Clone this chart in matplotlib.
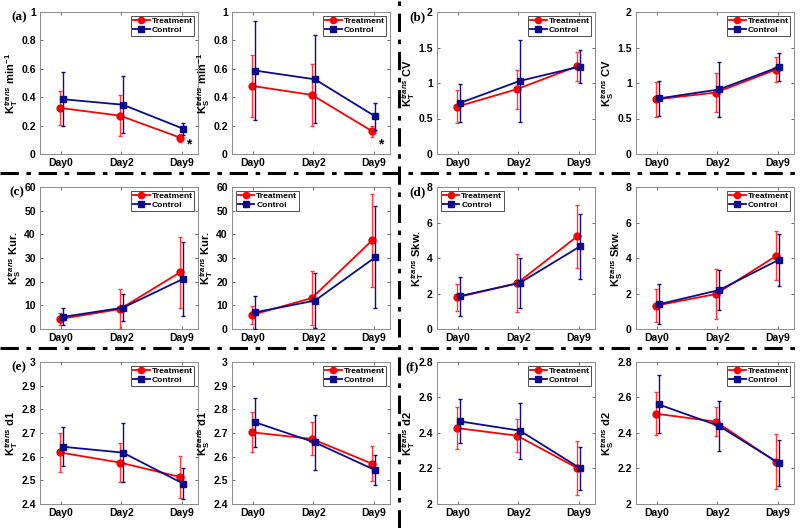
import matplotlib
matplotlib.use("Agg")
import matplotlib.pyplot as plt
from matplotlib.lines import Line2D

plt.rcParams['font.family'] = ['Liberation Sans', 'DejaVu Sans']
plt.rcParams['font.weight'] = 'bold'
plt.rcParams['mathtext.fontset'] = 'custom'
plt.rcParams['mathtext.rm'] = 'Liberation Sans:bold'
plt.rcParams['mathtext.it'] = 'Liberation Sans:bold:italic'
plt.rcParams['mathtext.bf'] = 'Liberation Sans:bold'
plt.rcParams['mathtext.sf'] = 'Liberation Sans:bold'

days = ['Day0', 'Day2', 'Day9']
groups = ['Treatment', 'Control']

# (a) left: K_T^trans min^-1
a1_trt = [0.325, 0.27, 0.115]
a1_trt_err = [0.122, 0.142, 0.027]
a1_ctl = [0.386, 0.347, 0.178]
a1_ctl_err = [0.188, 0.200, 0.043]
# (a) right: K_S^trans min^-1
a2_trt = [0.48, 0.416, 0.16]
a2_trt_err = [0.22, 0.22, 0.04]
a2_ctl = [0.588, 0.526, 0.265]
a2_ctl_err = [0.347, 0.31, 0.093]
# (b) left: K_T^trans CV
b1_trt = [0.665, 0.913, 1.236]
b1_trt_err = [0.23, 0.277, 0.205]
b1_ctl = [0.717, 1.03, 1.232]
b1_ctl_err = [0.27, 0.58, 0.234]
# (b) right: K_S^trans CV
b2_trt = [0.768, 0.866, 1.19]
b2_trt_err = [0.245, 0.27, 0.17]
b2_ctl = [0.782, 0.909, 1.227]
b2_ctl_err = [0.24, 0.39, 0.2]
# (c) left: K_S^trans Kur.
c1_trt = [4.2, 8.4, 24.0]
c1_trt_err = [2.7, 8.4, 15.0]
c1_ctl = [5.1, 9.0, 21.2]
c1_ctl_err = [3.6, 5.6, 15.7]
# (c) right: K_T^trans Kur.
c2_trt = [5.9, 13.1, 37.5]
c2_trt_err = [3.7, 11.6, 19.7]
c2_ctl = [7.0, 12.0, 30.3]
c2_ctl_err = [7.0, 11.7, 21.6]
# (d) left: K_T^trans Skw.
d1_trt = [1.78, 2.57, 5.22]
d1_trt_err = [0.77, 1.63, 1.78]
d1_ctl = [1.85, 2.6, 4.66]
d1_ctl_err = [1.1, 1.4, 1.84]
# (d) right: K_S^trans Skw.
d2_trt = [1.31, 1.97, 4.12]
d2_trt_err = [0.94, 1.4, 1.38]
d2_ctl = [1.39, 2.19, 3.91]
d2_ctl_err = [1.12, 1.14, 1.46]
# (e) left: K_T^trans d1
e1_trt = [2.618, 2.575, 2.514]
e1_trt_err = [0.082, 0.081, 0.088]
e1_ctl = [2.642, 2.617, 2.486]
e1_ctl_err = [0.082, 0.124, 0.065]
# (e) right: K_S^trans d1
e2_trt = [2.703, 2.675, 2.57]
e2_trt_err = [0.085, 0.07, 0.073]
e2_ctl = [2.746, 2.66, 2.543]
e2_ctl_err = [0.104, 0.115, 0.063]
# (f) left: K_T^trans d2
f1_trt = [2.428, 2.385, 2.203]
f1_trt_err = [0.118, 0.093, 0.152]
f1_ctl = [2.466, 2.413, 2.201]
f1_ctl_err = [0.125, 0.157, 0.12]
# (f) right: K_S^trans d2
f2_trt = [2.509, 2.464, 2.237]
f2_trt_err = [0.123, 0.081, 0.155]
f2_ctl = [2.561, 2.44, 2.229]
f2_ctl_err = [0.163, 0.14, 0.13]

panels = [
    (a1_trt, a1_trt_err, a1_ctl, a1_ctl_err, r'K$_\mathrm{T}^{trans}$ min$^\mathrm{-1}$', (0, 1), [0, 0.2, 0.4, 0.6, 0.8, 1], 'upper right', '(a)', True),
    (a2_trt, a2_trt_err, a2_ctl, a2_ctl_err, r'K$_\mathrm{S}^{trans}$ min$^\mathrm{-1}$', (0, 1), [0, 0.2, 0.4, 0.6, 0.8, 1], 'upper right', None, True),
    (b1_trt, b1_trt_err, b1_ctl, b1_ctl_err, r'K$_\mathrm{T}^{trans}$ CV', (0, 2), [0, 0.5, 1, 1.5, 2], 'upper right', '(b)', False),
    (b2_trt, b2_trt_err, b2_ctl, b2_ctl_err, r'K$_\mathrm{S}^{trans}$ CV', (0, 2), [0, 0.5, 1, 1.5, 2], 'upper right', None, False),
    (c1_trt, c1_trt_err, c1_ctl, c1_ctl_err, r'K$_\mathrm{S}^{trans}$ Kur.', (0, 60), [0, 10, 20, 30, 40, 50, 60], 'upper right', '(c)', False),
    (c2_trt, c2_trt_err, c2_ctl, c2_ctl_err, r'K$_\mathrm{T}^{trans}$ Kur.', (0, 60), [0, 10, 20, 30, 40, 50, 60], 'upper left', None, False),
    (d1_trt, d1_trt_err, d1_ctl, d1_ctl_err, r'K$_\mathrm{T}^{trans}$ Skw.', (0, 8), [0, 2, 4, 6, 8], 'upper left', '(d)', False),
    (d2_trt, d2_trt_err, d2_ctl, d2_ctl_err, r'K$_\mathrm{S}^{trans}$ Skw.', (0, 8), [0, 2, 4, 6, 8], 'upper right', None, False),
    (e1_trt, e1_trt_err, e1_ctl, e1_ctl_err, r'K$_\mathrm{T}^{trans}$ d1', (2.4, 3), [2.4, 2.5, 2.6, 2.7, 2.8, 2.9, 3], 'upper right', '(e)', False),
    (e2_trt, e2_trt_err, e2_ctl, e2_ctl_err, r'K$_\mathrm{S}^{trans}$ d1', (2.4, 3), [2.4, 2.5, 2.6, 2.7, 2.8, 2.9, 3], 'upper right', None, False),
    (f1_trt, f1_trt_err, f1_ctl, f1_ctl_err, r'K$_\mathrm{T}^{trans}$ d2', (2, 2.8), [2, 2.2, 2.4, 2.6, 2.8], 'upper right', '(f)', False),
    (f2_trt, f2_trt_err, f2_ctl, f2_ctl_err, r'K$_\mathrm{S}^{trans}$ d2', (2, 2.8), [2, 2.2, 2.4, 2.6, 2.8], 'upper right', None, False),
]

W, H = 800, 528
fig = plt.figure(figsize=(8, 5.28), dpi=100)

col_left = [40, 232, 437, 636]
row_top = [12, 187, 362]
label_x = {'(a)': 11, '(c)': 9, '(e)': 11, '(b)': 409, '(d)': 409, '(f)': 405}
aw, ah = 158, 142

red = '#ff0000'
blue = '#0b0b8c'
xs = [1, 2, 3]
off = 0.025


def tick_fmt(v):
    return '%g' % v


for i, (tm, te, cm, ce, ylab, ylim, yt, lloc, plab, star) in enumerate(panels):
    r, c = divmod(i, 4)
    left = col_left[c]
    top = row_top[r]
    ax = fig.add_axes([left / W, (H - top - ah) / H, aw / W, ah / H])
    xt = [x - off for x in xs]
    xc = [x + off for x in xs]
    ax.errorbar(xt, tm, yerr=te, color=red, ecolor='#ff3a3a', elinewidth=1.0, capsize=1.6,
                capthick=1.0, lw=1.3, marker='o', ms=5, mfc=red, mec=red, zorder=3)
    ax.errorbar(xc, cm, yerr=ce, color=blue, ecolor=blue, elinewidth=1.0, capsize=1.6,
                capthick=1.0, lw=1.3, marker='s', ms=4.5, mfc=blue, mec=blue, zorder=4)
    ax.set_xlim(0.65, 3.27)
    ax.set_ylim(*ylim)
    ax.set_xticks(xs)
    ax.set_xticklabels(days, fontsize=7.5, fontweight='bold')
    ax.set_yticks(yt)
    ax.set_yticklabels([tick_fmt(v) for v in yt], fontsize=7.5, fontweight='bold')
    ax.tick_params(direction='in', length=2.5, width=0.6, top=True, right=True, pad=3,
                   color='#555555')
    for s in ax.spines.values():
        s.set_color('#8c8c8c')
        s.set_linewidth(0.7)
    ax.set_ylabel(ylab, fontsize=8, fontweight='bold', labelpad=1)
    handles = [Line2D([], [], color=red, lw=1.3, marker='o', ms=4.5, mfc=red, mec=red),
               Line2D([], [], color=blue, lw=1.3, marker='s', ms=4, mfc=blue, mec=blue)]
    leg = ax.legend(handles, groups, loc=lloc, frameon=True, fancybox=False, edgecolor='#222222',
                    handlelength=2.0, handletextpad=0.2, borderpad=0.2, labelspacing=0.1,
                    borderaxespad=0.45, prop={'weight': 'bold', 'size': 6.1})
    leg.get_frame().set_linewidth(0.7)
    if star:
        ax.text(3.12, 0.07, '*', fontsize=10, ha='center', va='center', fontweight='bold')
    if plab:
        fig.text(label_x[plab] / W, (H - top - 5) / H, plab, fontsize=9.5, fontweight='bold',
                 family='Liberation Serif', ha='left', va='center')

# dash-dot separators
ls = (0, (6, 2.5, 1.5, 2.5))
for yy in [173, 348]:
    fig.add_artist(Line2D([0, 1], [(H - yy) / H] * 2, transform=fig.transFigure,
                          color='black', lw=2.2, linestyle=ls))
fig.add_artist(Line2D([399 / W] * 2, [0, 1], transform=fig.transFigure,
                      color='black', lw=2.2, linestyle=ls))

fig.savefig('out.png', dpi=100)
